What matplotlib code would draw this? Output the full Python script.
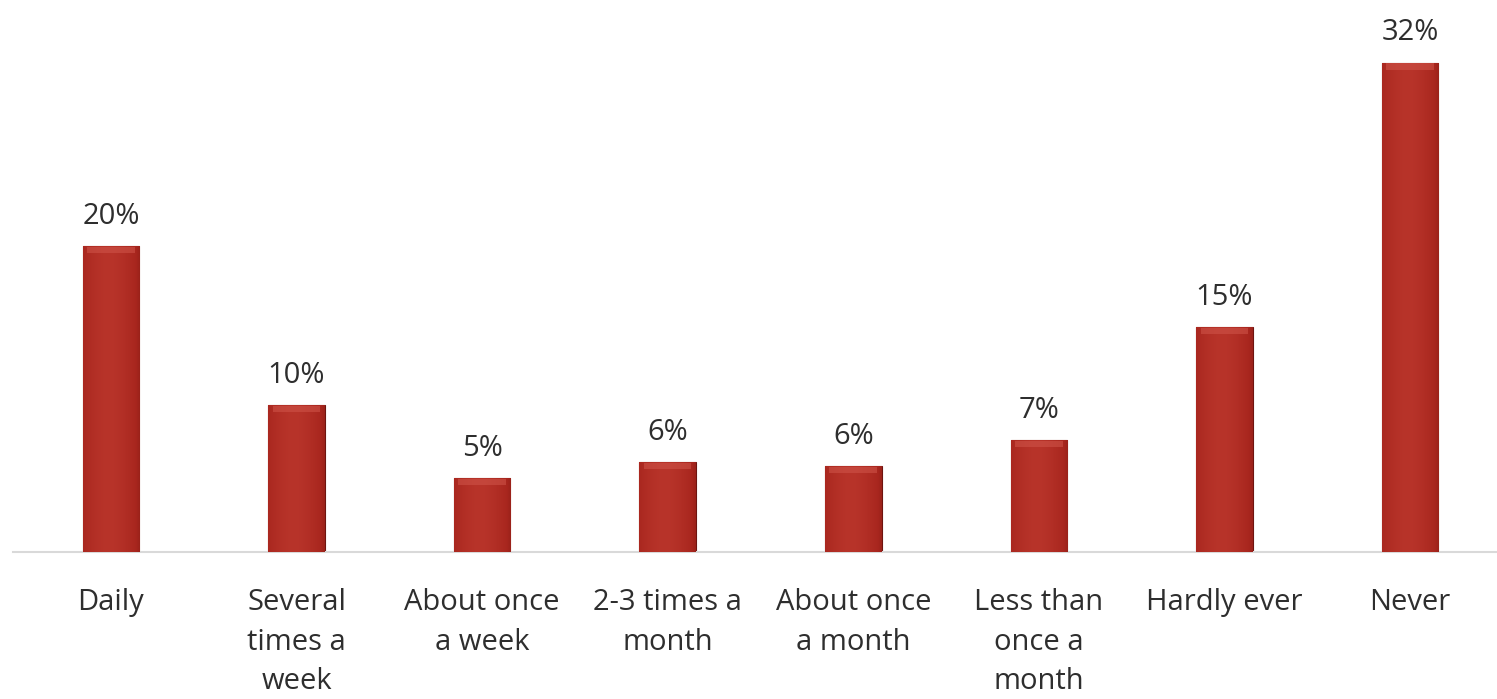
import numpy as np
import matplotlib.pyplot as plt
from matplotlib.colors import LinearSegmentedColormap

categories = ["Daily", "Several\ntimes a\nweek", "About once\na week", "2-3 times a\nmonth",
              "About once\na month", "Less than\nonce a\nmonth", "Hardly ever", "Never"]
values = [20.0, 9.6, 4.85, 5.9, 5.6, 7.3, 14.7, 32.0]
value_labels = ["20%", "10%", "5%", "6%", "6%", "7%", "15%", "32%"]

plt.rcParams["font.family"] = ["Open Sans", "DejaVu Sans"]

fig = plt.figure(figsize=(14.97, 6.99), dpi=100)
ax = fig.add_axes([13 / 1497, 1 - 552 / 699, 1 - 13 / 1497, 552 / 699])

x = np.arange(len(categories))
bars = ax.bar(x, values, width=0.305, color="#a3231c", edgecolor="#6e1410", linewidth=0.8, zorder=2)

# horizontal shading to mimic the bevelled bars
t = np.linspace(0, 1, 64)
shade = 1 - 0.55 * np.abs(t - 0.45) ** 1.6 * 2
grad = np.outer(np.ones(8), shade)
cmap = LinearSegmentedColormap.from_list("bar", ["#6a120e", "#a8261e", "#b8342a"])
for b in bars:
    x0, w, h = b.get_x(), b.get_width(), b.get_height()
    im = ax.imshow(grad, cmap=cmap, vmin=0.3, vmax=1.0, aspect="auto",
                   extent=[x0, x0 + w, 0, h], zorder=3, interpolation="bicubic")
    im.set_clip_path(b)
    # top bevel highlight
    ax.fill_between([x0 + w * 0.08, x0 + w * 0.92], h - 0.45, h - 0.05,
                    color="#d0554a", alpha=0.55, zorder=4, linewidth=0)

for xi, v, lab in zip(x, values, value_labels):
    ax.annotate(lab, (xi, v), xytext=(0, 11), textcoords="offset points",
                ha="center", va="bottom", fontsize=21, color="#2e2e2e")

ax.set_xlim(-0.528, 7.469)
ax.set_ylim(0, 36.1)
ax.set_xticks(x)
ax.set_xticklabels(categories, fontsize=21, color="#2e2e2e", linespacing=1.48, va="top")
ax.tick_params(axis="x", length=0, pad=26)
ax.set_yticks([])
for s in ["top", "right", "left"]:
    ax.spines[s].set_visible(False)
ax.spines["bottom"].set_color("#d9d9d9")
ax.spines["bottom"].set_linewidth(1.5)

fig.savefig("out.png", dpi=100)
